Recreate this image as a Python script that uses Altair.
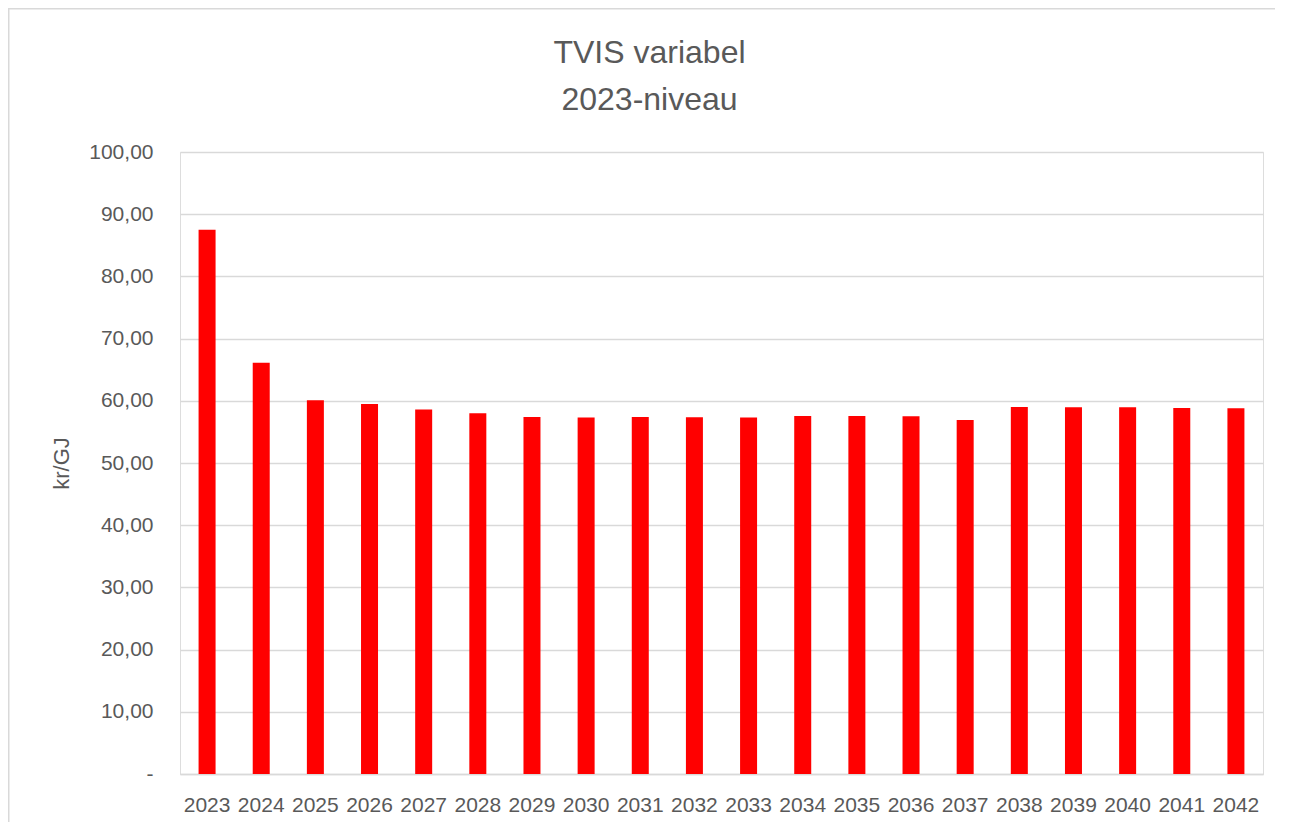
import altair as alt
import pandas as pd

years = [str(y) for y in range(2023, 2043)]
values = [87.5, 66.1, 60.1, 59.5, 58.6, 58.0, 57.4, 57.3, 57.4, 57.35,
          57.3, 57.55, 57.55, 57.5, 56.9, 59.0, 58.95, 58.95, 58.85, 58.8]
y_ticks = [0, 10, 20, 30, 40, 50, 60, 70, 80, 90, 100]
title_lines = ["TVIS variabel", "2023-niveau"]

df = pd.DataFrame({"year": years, "value": values})
one = pd.DataFrame({"k": [0]})

FONT = "Liberation Sans"
TXT = "#595959"
GRID = "#d9d9d9"
W, H = 1083, 622
PAD_L, PAD_T, PAD_R, PAD_B = 172, 144, 12, 48

bars = alt.Chart(df).mark_bar(color="#ff0000", size=17).encode(
    x=alt.X("year:N", sort=years,
            scale=alt.Scale(paddingInner=0, paddingOuter=0),
            axis=alt.Axis(title=None, labelAngle=0, labelFontSize=21, labelColor=TXT,
                          labelFont=FONT, labelPadding=20, ticks=False,
                          domainColor=GRID, domainWidth=1.3, grid=False)),
    y=alt.Y("value:Q", scale=alt.Scale(domain=[0, 100], nice=False),
            axis=alt.Axis(title="kr/GJ", values=y_ticks, domain=False, ticks=False,
                          labelFontSize=21, labelColor=TXT, labelFont=FONT, labelPadding=27,
                          labelExpr="datum.value == 0 ? '-\u00a0\u00a0' : replace(format(datum.value, '.2f'), '.', ',')",
                          gridColor=GRID, gridWidth=1.3,
                          titleFont=FONT, titleFontSize=22, titleColor=TXT, titleFontWeight="normal",
                          titleAngle=-90, titleBaseline="alphabetic", titleX=-112, titleY=H / 2,
                          titleAlign="center")),
)

border_top = alt.Chart(one).mark_rule(color=GRID, strokeWidth=1.5).encode(
    x=alt.value(-PAD_L), x2=alt.value(W + PAD_R), y=alt.value(-PAD_T + 0.75)
)
border_left = alt.Chart(one).mark_rule(color=GRID, strokeWidth=1.5).encode(
    x=alt.value(-PAD_L + 0.75), y=alt.value(-PAD_T), y2=alt.value(H + PAD_B)
)

def title_text(line, ypos):
    return alt.Chart(one).mark_text(font=FONT, fontSize=32, color=TXT, align="center",
                                    baseline="alphabetic").encode(
        x=alt.value(W / 2 - 72), y=alt.value(ypos), text=alt.value(line)
    )

t1 = title_text(title_lines[0], -89)
t2 = title_text(title_lines[1], -42)

chart = alt.layer(bars, border_top, border_left, t1, t2).properties(
    width=W, height=H,
    autosize=alt.AutoSizeParams(type="none"),
    padding={"left": PAD_L, "top": PAD_T, "right": PAD_R, "bottom": PAD_B},
).configure_view(stroke="transparent", strokeWidth=0).configure(background="white")

chart.save("out.html", embed_options={"renderer": "svg", "actions": False})
